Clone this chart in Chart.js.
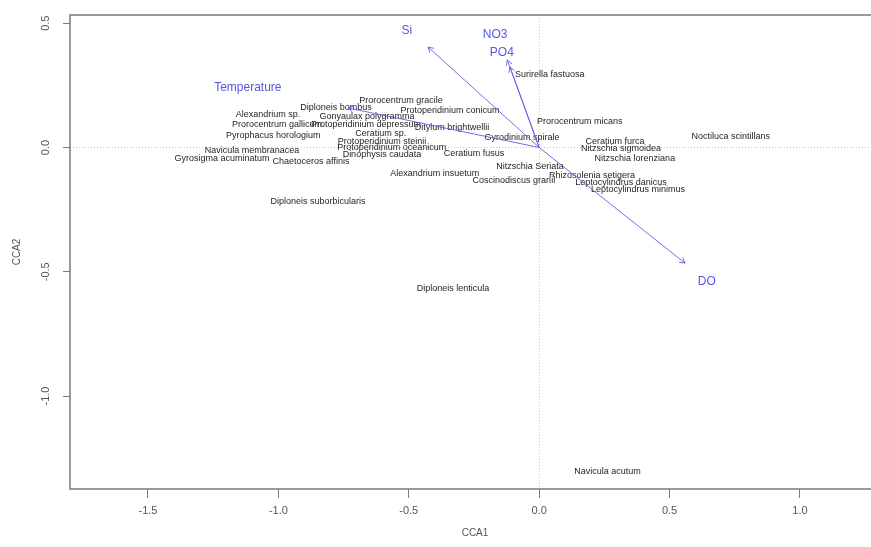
<!DOCTYPE html>
<html>
<head>
<meta charset="utf-8">
<script src="https://cdn.jsdelivr.net/npm/chart.js@4.4.1/dist/chart.umd.min.js"></script>
<style>
html, body { margin: 0; padding: 0; background: #fff; overflow: hidden; width: 871px; height: 547px; }
#wrap { position: relative; width: 880px; height: 547px; }
</style>
</head>
<body>
<div id="wrap"><canvas id="cca" width="880" height="547"></canvas></div>
<script>
// species scores (CCA1, CCA2)
const speciesNames = [
    'Surirella fastuosa', 'Prorocentrum gracile', 'Diploneis bombus', 'Protoperidinium conicum',
    'Alexandrium sp.', 'Gonyaulax polygramma', 'Prorocentrum micans', 'Prorocentrum gallicum',
    'Protoperidinium depressum', 'Ditylum brightwellii', 'Pyrophacus horologium', 'Ceratium sp.',
    'Gyrodinium spirale', 'Ceratium furca', 'Nitzschia sigmoidea', 'Noctiluca scintillans',
    'Protoperidinium steinii', 'Navicula membranacea', 'Protoperidinium oceanicum', 'Dinophysis caudata',
    'Ceratium fusus', 'Nitzschia lorenziana', 'Gyrosigma acuminatum', 'Chaetoceros affinis',
    'Nitzschia Seriata', 'Rhizosolenia setigera', 'Alexandrium insuetum', 'Coscinodiscus granii',
    'Leptocylindrus danicus', 'Leptocylindrus minimus', 'Diploneis suborbicularis', 'Diploneis lenticula',
    'Navicula acutum'
];
const speciesX = [
    0.041, -0.530, -0.779, -0.342,
    -1.040, -0.660, 0.156, -1.005,
    -0.664, -0.334, -1.020, -0.607,
    -0.066, 0.291, 0.314, 0.735,
    -0.603, -1.101, -0.565, -0.603,
    -0.250, 0.367, -1.216, -0.875,
    -0.035, 0.203, -0.400, -0.097,
    0.314, 0.379, -0.848, -0.330,
    0.262
];
const speciesY = [
    0.292, 0.187, 0.159, 0.147,
    0.131, 0.123, 0.103, 0.091,
    0.091, 0.082, 0.050, 0.058,
    0.042, 0.022, -0.006, 0.046,
    0.026, -0.014, -0.002, -0.030,
    -0.026, -0.046, -0.046, -0.058,
    -0.078, -0.111, -0.103, -0.131,
    -0.139, -0.171, -0.219, -0.569,
    -1.302
];

// environmental biplot arrows
const envNames = ['Si', 'NO3', 'PO4', 'Temperature', 'DO'];
const envX = [-0.426, -0.122, -0.112, -0.733, 0.559];
const envY = [0.404, 0.352, 0.324, 0.159, -0.465];
const envLabelX = [-0.507, -0.169, -0.143, -1.117, 0.643];
const envLabelY = [0.469, 0.453, 0.380, 0.239, -0.541];

const xTicks = [-1.5, -1.0, -0.5, 0.0, 0.5, 1.0];
const yTicks = [0.5, 0.0, -0.5, -1.0];

const arrowColor = 'rgba(95, 95, 230, 0.9)';
const envTextColor = '#5555e6';
const axisColor = '#7a7a7a';
const tickTextColor = '#555';

const arrowDatasets = envNames.map((name, i) => ({
    type: 'line',
    label: name,
    data: [{x: 0, y: 0}, {x: envX[i], y: envY[i]}],
    borderColor: arrowColor,
    borderWidth: 1,
    pointRadius: 0,
    fill: false
}));

const ccaPlugin = {
    id: 'ccaPlugin',
    beforeDatasetsDraw(chart) {
        const {ctx, chartArea: a, scales: {x, y}} = chart;
        ctx.save();
        // dotted zero lines
        ctx.strokeStyle = '#c8c8c8';
        ctx.lineWidth = 1;
        ctx.setLineDash([1, 2]);
        ctx.beginPath();
        const x0 = Math.round(x.getPixelForValue(0)) + 0.5;
        const y0 = Math.round(y.getPixelForValue(0)) + 0.5;
        ctx.moveTo(x0, a.top); ctx.lineTo(x0, a.bottom);
        ctx.moveTo(a.left, y0); ctx.lineTo(a.right, y0);
        ctx.stroke();
        ctx.setLineDash([]);
        // species labels
        const meta = chart.getDatasetMeta(0);
        ctx.font = '9px "Liberation Sans", Arial, sans-serif';
        ctx.fillStyle = '#1e1e1e';
        ctx.textAlign = 'center';
        ctx.textBaseline = 'middle';
        meta.data.forEach((pt, i) => {
            ctx.fillText(speciesNames[i], pt.x, pt.y);
        });
        ctx.restore();
    },
    afterDatasetsDraw(chart) {
        const {ctx, chartArea: a, scales: {x, y}} = chart;
        ctx.save();
        // arrow heads
        ctx.strokeStyle = arrowColor;
        ctx.lineWidth = 1;
        envNames.forEach((name, i) => {
            const px = x.getPixelForValue(envX[i]);
            const py = y.getPixelForValue(envY[i]);
            const ox = x.getPixelForValue(0);
            const oy = y.getPixelForValue(0);
            const ang = Math.atan2(py - oy, px - ox);
            const len = 6;
            ctx.beginPath();
            ctx.moveTo(px - len * Math.cos(ang - Math.PI / 6), py - len * Math.sin(ang - Math.PI / 6));
            ctx.lineTo(px, py);
            ctx.lineTo(px - len * Math.cos(ang + Math.PI / 6), py - len * Math.sin(ang + Math.PI / 6));
            ctx.stroke();
        });
        // arrow labels
        ctx.font = '12px "Liberation Sans", Arial, sans-serif';
        ctx.fillStyle = envTextColor;
        ctx.textAlign = 'center';
        ctx.textBaseline = 'middle';
        envNames.forEach((name, i) => {
            ctx.fillText(name, x.getPixelForValue(envLabelX[i]), y.getPixelForValue(envLabelY[i]));
        });
        // plot frame
        ctx.strokeStyle = axisColor;
        ctx.lineWidth = 1.5;
        ctx.strokeRect(a.left, a.top, a.right - a.left, a.bottom - a.top);
        // rotated y tick labels
        ctx.font = '11px "Liberation Sans", Arial, sans-serif';
        ctx.fillStyle = tickTextColor;
        yTicks.forEach(v => {
            ctx.save();
            ctx.translate(46, y.getPixelForValue(v));
            ctx.rotate(-Math.PI / 2);
            ctx.fillText(v.toFixed(1), 0, 0);
            ctx.restore();
        });
        ctx.restore();
    }
};

new Chart(document.getElementById('cca'), {
    data: {
        datasets: [
            {
                type: 'scatter',
                label: 'species',
                data: speciesX.map((v, i) => ({x: v, y: speciesY[i]})),
                pointRadius: 0,
                pointHoverRadius: 0
            },
            ...arrowDatasets
        ]
    },
    options: {
        responsive: false,
        animation: false,
        devicePixelRatio: 1,
        layout: {padding: {left: 0, top: 15, right: 0, bottom: 0}},
        plugins: {
            legend: {display: false},
            tooltip: {enabled: false}
        },
        scales: {
            x: {
                type: 'linear',
                min: -1.799,
                max: 1.307,
                afterBuildTicks: s => { s.ticks = xTicks.map(v => ({value: v})); },
                afterFit: s => { s.height = 58; },
                ticks: {
                    callback: v => Number(v).toFixed(1),
                    color: tickTextColor,
                    font: {size: 11, family: '"Liberation Sans", Arial, sans-serif'},
                    padding: 6,
                    maxRotation: 0,
                    autoSkip: false
                },
                grid: {display: true, drawOnChartArea: false, drawTicks: true, tickLength: 9, color: axisColor},
                border: {display: false},
                title: {
                    display: true,
                    text: 'CCA1',
                    color: tickTextColor,
                    font: {size: 10, family: '"Liberation Sans", Arial, sans-serif'},
                    padding: {top: 0, bottom: 8}
                }
            },
            y: {
                type: 'linear',
                min: -1.374,
                max: 0.533,
                afterBuildTicks: s => { s.ticks = yTicks.map(v => ({value: v})); },
                afterFit: s => { s.width = 70; },
                ticks: {color: 'rgba(0,0,0,0)', font: {size: 11}, padding: 4},
                grid: {display: true, drawOnChartArea: false, drawTicks: true, tickLength: 7, color: axisColor},
                border: {display: false},
                title: {
                    display: true,
                    text: 'CCA2',
                    color: tickTextColor,
                    font: {size: 10, family: '"Liberation Sans", Arial, sans-serif'},
                    padding: {top: 11, bottom: 0}
                }
            }
        }
    },
    plugins: [ccaPlugin]
});
</script>
</body>
</html>
